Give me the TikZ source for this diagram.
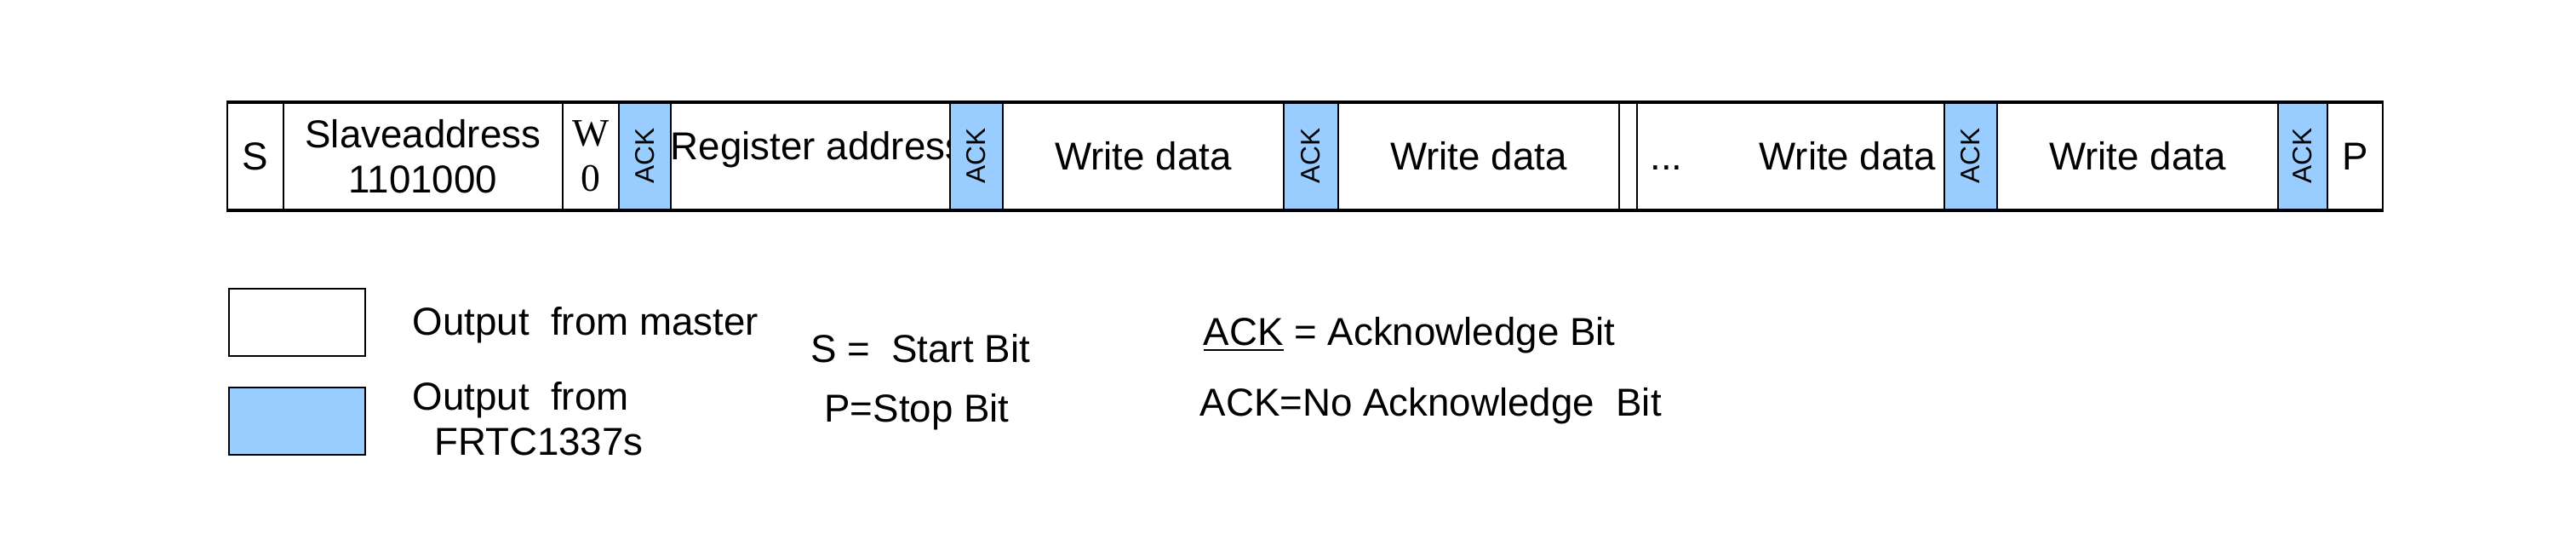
\documentclass[tikz,border=0pt]{standalone}
\usepackage{fontspec}
\setmainfont{Liberation Sans}
\newfontfamily\serifw{Liberation Serif}
\usetikzlibrary{positioning}
\definecolor{ackblue}{HTML}{99CCFF}
\begin{document}
\begin{tikzpicture}[x=1cm,y=1cm]
        \tikzstyle{field} = [rectangle, anchor=north west, minimum height=1.25cm, inner sep=0pt, text centered, draw=black, line width=0.5pt, font=\fontsize{13}{15}\selectfont]
        \tikzstyle{ack} = [field, fill=ackblue, font=\fontsize{9}{10}\selectfont]
        \tikzstyle{legend} = [rectangle, anchor=north west, inner sep=0pt, minimum width=1.6cm, minimum height=0.79cm, draw=black, line width=0.6pt]
        \tikzstyle{labeltext} = [font=\fontsize{13}{15}\selectfont, inner sep=0pt]
        \useasboundingbox (0,0) rectangle (30.26,-6.26);

        % Frame
        \node (s) [field, minimum width=0.66cm] at (2.66,-1.20) {S};
        \node (addr) [field, minimum width=3.28cm, align=center] at (3.32,-1.20) {Slaveaddress\\1101000};
        \node (w) [field, minimum width=0.66cm, align=center, font=\serifw\fontsize{13}{15}\selectfont] at (6.60,-1.20) {W\\0};
        \node (ack1) [ack, minimum width=0.61cm] at (7.26,-1.20) {\rotatebox{90}{ACK}};
        \node (reg) [field, minimum width=3.28cm] at (7.87,-1.20) {\raisebox{0.25cm}{Register address}};
        \node (ack2) [ack, minimum width=0.62cm] at (11.15,-1.20) {\rotatebox{90}{ACK}};
        \node (data1) [field, minimum width=3.30cm] at (11.77,-1.20) {Write data};
        \node (ack3) [ack, minimum width=0.64cm] at (15.07,-1.20) {\rotatebox{90}{ACK}};
        \node (data2) [field, minimum width=3.30cm] at (15.71,-1.20) {Write data};
        \node (gap) [field, minimum width=0.21cm] at (19.01,-1.20) {};
        \node (data3) [field, minimum width=3.61cm] at (19.22,-1.20) {\makebox[3.3cm][l]{...\hspace{0.9cm}Write data}};
        \node (ack4) [ack, minimum width=0.62cm] at (22.83,-1.20) {\rotatebox{90}{ACK}};
        \node (data4) [field, minimum width=3.30cm] at (23.45,-1.20) {Write data};
        \node (ack5) [ack, minimum width=0.58cm] at (26.75,-1.20) {\rotatebox{90}{ACK}};
        \node (p) [field, minimum width=0.65cm] at (27.33,-1.20) {P};
        \draw [line width=1.2pt] (s.north west) -- (p.north east);
        \draw [line width=1.2pt] (s.south west) -- (p.south east);

        % Legend
        \node (master) [legend] at (2.68,-3.38) {};
        \node (slave) [legend, fill=ackblue] at (2.68,-4.54) {};
        \node (mastertext) [labeltext, anchor=west] at (4.84,-3.82) {Output\ \ from master};
        \node (slavetext) [labeltext, anchor=west, align=left] at (4.84,-4.92) {Output\ \ from\\\ \ FRTC1337s};
        \node (start) [labeltext] at (10.81,-4.09) {S = \ Start Bit};
        \node (stop) [labeltext] at (10.77,-4.84) {P=Stop Bit};
        \node (acktext) [labeltext, anchor=west] at (14.13,-3.94) {\underline{ACK} = Acknowledge Bit};
        \node (nacktext) [labeltext, anchor=west] at (14.09,-4.77) {ACK=No Acknowledge\ \ Bit};
    \end{tikzpicture}
\end{document}
